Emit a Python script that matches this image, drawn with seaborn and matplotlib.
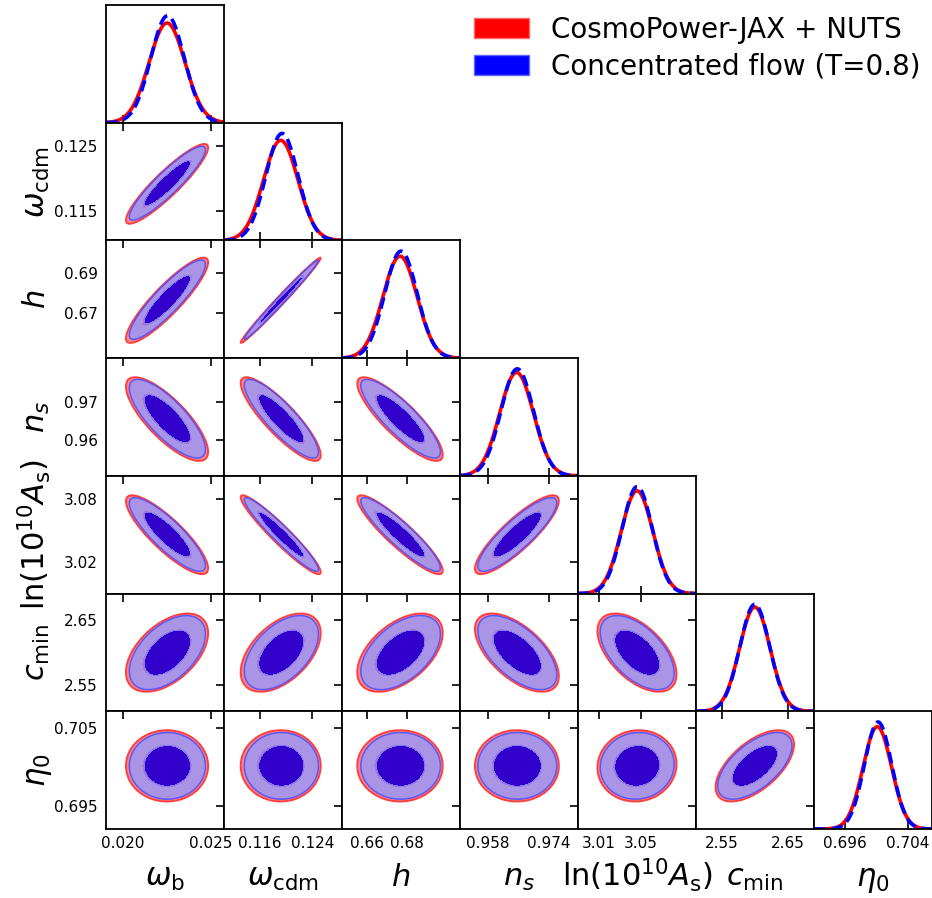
import numpy as np
import matplotlib
matplotlib.use("Agg")
import matplotlib.pyplot as plt
import seaborn as sns
from matplotlib.patches import Patch

# ---------------- data ----------------
param_labels = [r"$\omega_{\rm b}$", r"$\omega_{\rm cdm}$", r"$h$", r"$n_s$",
                r"$\ln(10^{10}A_{\rm s})$", r"$c_{\rm min}$", r"$\eta_0$"]
legend_labels = ["CosmoPower-JAX + NUTS", "Concentrated flow (T=0.8)"]

# 2D posterior summaries
mean_nuts = [0.02250, 0.1192, 0.6765, 0.9656, 3.0460, 2.600, 0.7001]
sigma_nuts = [0.00094, 0.00245, 0.0086, 0.00445, 0.0151, 0.0240, 0.00184]
mean_flow = [0.02252, 0.1193, 0.6768, 0.9657, 3.0462, 2.600, 0.7001]
sigma_flow = [0.00087, 0.00227, 0.0080, 0.00418, 0.0141, 0.0227, 0.00172]

# 1D marginal curves
peak_nuts_1d = [0.02250, 0.1192, 0.6765, 0.9655, 3.0460, 2.600, 0.7001]
width_nuts_1d = [0.00102, 0.00262, 0.0085, 0.00445, 0.0150, 0.0232, 0.00182]
peak_flow_1d = [0.02253, 0.1194, 0.6770, 0.9657, 3.0462, 2.600, 0.7002]
width_flow_1d = [0.00095, 0.00245, 0.0081, 0.00430, 0.0144, 0.0226, 0.00174]

corr = [
    [1.00, 0.91, 0.89, -0.78, -0.85, 0.50, 0.00],
    [0.91, 1.00, 0.99, -0.86, -0.95, 0.50, 0.00],
    [0.89, 0.99, 1.00, -0.85, -0.91, 0.50, 0.00],
    [-0.78, -0.86, -0.85, 1.00, 0.86, -0.60, 0.00],
    [-0.85, -0.95, -0.91, 0.86, 1.00, -0.55, 0.05],
    [0.50, 0.50, 0.50, -0.60, -0.55, 1.00, 0.60],
    [0.00, 0.00, 0.00, 0.00, 0.05, 0.60, 1.00],
]

axis_limits = [(0.01903, 0.02574), (0.11057, 0.12853), (0.6475, 0.7065),
               (0.9506, 0.9817), (2.990, 3.102), (2.5106, 2.690), (0.6920, 0.7071)]

x_ticks = [[0.020, 0.025], [0.116, 0.124], [0.66, 0.68], [0.958, 0.974],
           [3.01, 3.05], [2.55, 2.65], [0.696, 0.704]]
x_tick_labels = [["0.020", "0.025"], ["0.116", "0.124"], ["0.66", "0.68"],
                 ["0.958", "0.974"], ["3.01", "3.05"], ["2.55", "2.65"],
                 ["0.696", "0.704"]]
y_ticks = [[], [0.115, 0.125], [0.67, 0.69], [0.96, 0.97], [3.02, 3.08],
           [2.55, 2.65], [0.695, 0.705]]
y_tick_labels = [[], ["0.115", "0.125"], ["0.67", "0.69"], ["0.96", "0.97"],
                 ["3.02", "3.08"], ["2.55", "2.65"], ["0.695", "0.705"]]

# 2D confidence levels (68%, 95%) as chi^2 thresholds
chi2_levels = [0.0, 2.30, 6.18]

# ---------------- style ----------------
sns.set_style("white")
plt.rcParams["font.family"] = ["DejaVu Sans"]
plt.rcParams["mathtext.fontset"] = "dejavusans"
for key in ["text.color", "axes.labelcolor", "xtick.color", "ytick.color",
            "axes.edgecolor"]:
    plt.rcParams[key] = "black"

red_inner = (1.0, 0.0, 0.0, 1.0)
red_outer = (1.0, 0.52, 0.52, 1.0)
blue_inner = (0.0, 0.0, 1.0, 0.8)
blue_outer = (0.58, 0.60, 1.0, 0.8)

n = len(param_labels)
fig, axes = plt.subplots(n, n, figsize=(9.32, 8.98), dpi=100)
fig.subplots_adjust(left=106 / 932, right=1.0, top=1 - 5 / 898,
                    bottom=1 - 829 / 898, hspace=0, wspace=0)


def gauss_1d(x, m, s):
    return np.exp(-0.5 * ((x - m) / s) ** 2) / (s * np.sqrt(2 * np.pi))


def chi2_2d(X, Y, mx, my, sx, sy, rho):
    dx = (X - mx) / sx
    dy = (Y - my) / sy
    return (dx ** 2 - 2 * rho * dx * dy + dy ** 2) / (1 - rho ** 2)


for i in range(n):
    for j in range(n):
        ax = axes[i, j]
        if j > i:
            ax.set_visible(False)
            continue
        for sp in ax.spines.values():
            sp.set_color("black")
            sp.set_linewidth(1.3)
        xlo, xhi = axis_limits[j]
        if i == j:
            xs = np.linspace(xlo, xhi, 400)
            y_red = gauss_1d(xs, peak_nuts_1d[i], width_nuts_1d[i])
            y_blue = gauss_1d(xs, peak_flow_1d[i], width_flow_1d[i])
            sns.lineplot(x=xs, y=y_red, ax=ax, color="red", lw=2.6)
            sns.lineplot(x=xs, y=y_blue, ax=ax, color="blue", lw=2.6,
                         linestyle="--")
            ax.lines[-1].set_dashes([3.2, 1.6])
            ax.set_ylim(0, 1.1 * max(y_red.max(), y_blue.max()))
            ax.set_xlim(xlo, xhi)
            ax.set_yticks([])
            ax.tick_params(axis="x", direction="in", length=6, width=1.2,
                           bottom=True, top=False, labelsize=11, pad=5)
        else:
            ylo, yhi = axis_limits[i]
            gx = np.linspace(xlo, xhi, 300)
            gy = np.linspace(ylo, yhi, 300)
            X, Y = np.meshgrid(gx, gy)
            rho = corr[i][j]
            for means, sigmas, cols, lc, lw in [
                (mean_nuts, sigma_nuts, [red_inner, red_outer], (1, 0.2, 0.2, 0.85), 1.4),
                (mean_flow, sigma_flow, [blue_inner, blue_outer], (0.3, 0.3, 1.0, 0.85), 1.1),
            ]:
                D = chi2_2d(X, Y, means[j], means[i], sigmas[j], sigmas[i], rho)
                ax.contourf(X, Y, D, levels=chi2_levels, colors=cols)
                ax.contour(X, Y, D, levels=[chi2_levels[2]], colors=[lc],
                           linewidths=lw)
            ax.set_xlim(xlo, xhi)
            ax.set_ylim(ylo, yhi)
            ax.set_yticks(y_ticks[i])
            ax.set_yticklabels(y_tick_labels[i])
            ax.tick_params(direction="in", length=6, width=1.2, top=True,
                           right=True, labelsize=11)
            ax.tick_params(axis="y", pad=6)
            ax.tick_params(axis="x", pad=5)
        ax.set_xticks(x_ticks[j])
        ax.set_xticklabels(x_tick_labels[j])
        if i < n - 1:
            ax.tick_params(labelbottom=False)
        else:
            ax.set_xlabel(param_labels[j], fontsize=22)
            ax.xaxis.set_label_coords(0.5, -0.487)
            ax.xaxis.label.set_va("baseline")
        if j > 0 or i == 0:
            ax.tick_params(labelleft=False)
            ax.set_ylabel("")
        else:
            ax.set_ylabel(param_labels[i], fontsize=22, rotation=90,
                          rotation_mode="anchor")
            ax.yaxis.set_label_coords(-0.517, 0.5)
            ax.yaxis.label.set_va("baseline")
            ax.yaxis.label.set_ha("center")

handles = [Patch(facecolor="red", edgecolor=(1, 0.4, 0.4), label=legend_labels[0]),
           Patch(facecolor="blue", edgecolor=(0.4, 0.4, 1), label=legend_labels[1])]
fig.legend(handles=handles, loc="upper right", bbox_to_anchor=(1.0, 0.995),
           frameon=False, fontsize=20, labelspacing=0.32, borderaxespad=0,
           handlelength=2.0, handleheight=0.75, handletextpad=0.8)

fig.savefig("out.png", dpi=100)
